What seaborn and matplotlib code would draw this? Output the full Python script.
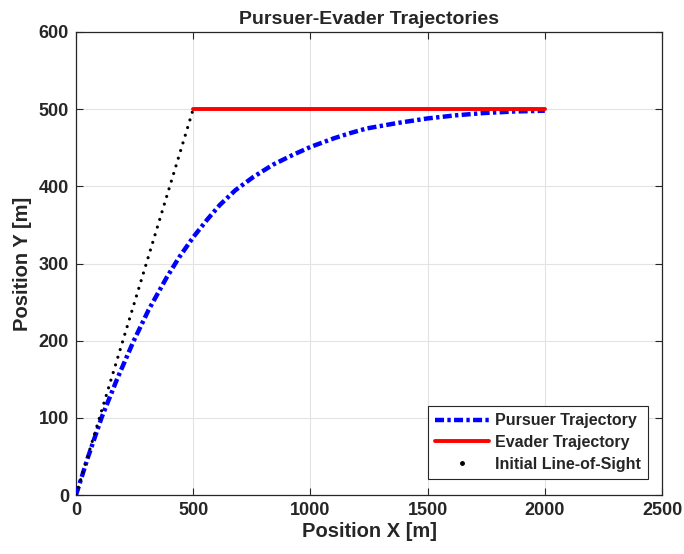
import matplotlib
matplotlib.use("Agg")
import matplotlib.pyplot as plt
from matplotlib.lines import Line2D
import seaborn as sns
import pandas as pd

# Data
pursuer_x = [0, 50, 110, 175, 245, 310, 387, 440, 500, 560, 614, 680, 756, 840, 927,
             1000, 1098, 1170, 1240, 1370, 1500, 1620, 1740, 1870, 2000]
pursuer_y = [0, 48, 101, 150, 199, 240, 282, 308, 334, 357, 376, 395, 412, 428, 441,
             451, 462, 469, 475, 482, 488, 492, 495, 497, 498]
evader_x = [500, 2000]
evader_y = [500, 500]
los_x = [0, 500]
los_y = [0, 500]
x_ticks = [0, 500, 1000, 1500, 2000, 2500]
y_ticks = [0, 100, 200, 300, 400, 500, 600]

sns.set_style("ticks")
plt.rcParams['font.family'] = ['Liberation Sans', 'DejaVu Sans']
plt.rcParams['lines.scale_dashes'] = False

fig = plt.figure(figsize=(6.84, 5.54), dpi=100)
ax = fig.add_axes([76/684, 1 - 495/554, (662-76)/684, (495-32)/554])

dfp = pd.DataFrame({"x": pursuer_x, "y": pursuer_y})
dfe = pd.DataFrame({"x": evader_x, "y": evader_y})
dfl = pd.DataFrame({"x": los_x, "y": los_y})

sns.lineplot(data=dfp, x="x", y="y", sort=False, ax=ax, color="#0000ff",
             linewidth=3.2, label="Pursuer Trajectory", zorder=3)
ax.lines[-1].set_dashes((6.5, 2.4, 2.4, 2.4))
sns.lineplot(data=dfe, x="x", y="y", sort=False, ax=ax, color="#ff0000",
             linewidth=2.8, label="Evader Trajectory", zorder=3)
sns.lineplot(data=dfl, x="x", y="y", sort=False, ax=ax, color="black",
             linewidth=2.3, label="Initial Line-of-Sight", zorder=4)
los_line = ax.lines[-1]
los_line.set_dashes((0.01, 5.75))
los_line.set_dash_capstyle("round")

ax.set_xlim(0, 2500)
ax.set_ylim(0, 600)
ax.set_xticks(x_ticks)
ax.set_yticks(y_ticks)
ax.grid(True, color="#e3e3e3", linewidth=0.8)
ax.set_axisbelow(True)
for s in ax.spines.values():
    s.set_visible(True)
    s.set_color("#262626")
    s.set_linewidth(0.9)
ax.tick_params(direction="in", length=5, width=0.8, top=True, right=True,
               labelsize=13, colors="#262626", pad=5)
for lab in ax.get_xticklabels() + ax.get_yticklabels():
    lab.set_fontweight("bold")
    lab.set_color("#262626")

ax.set_title("Pursuer-Evader Trajectories", fontsize=14, fontweight="bold", pad=6)
ax.set_xlabel("Position X [m]", fontsize=14.5, fontweight="bold", color="#262626", labelpad=2)
ax.set_ylabel("Position Y [m]", fontsize=14.5, fontweight="bold", color="#262626", labelpad=5)

handles, labels = ax.get_legend_handles_labels()
handles[2] = Line2D([], [], color="black", marker=".", markersize=5, linestyle="none")
leg = ax.legend(handles, labels, loc="lower right", bbox_to_anchor=(0.976, 0.035),
                prop={"weight": "bold", "size": 11.5}, handlelength=3.4,
                frameon=True, fancybox=False, edgecolor="#262626", framealpha=1,
                borderpad=0.45, labelspacing=0.42, handletextpad=0.35, borderaxespad=0)
leg.get_frame().set_linewidth(0.8)

fig.savefig("out.png", dpi=100)
